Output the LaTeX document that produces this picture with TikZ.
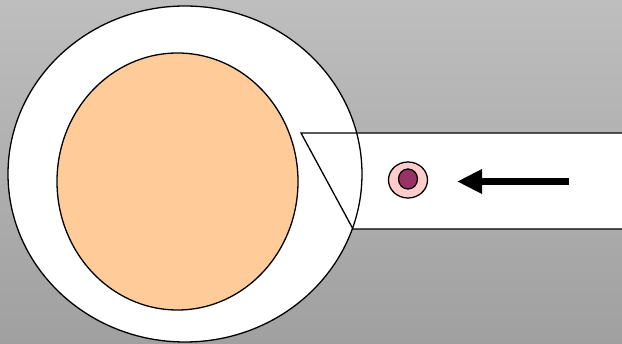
\documentclass[tikz,border=0pt]{standalone}
\usetikzlibrary{arrows.meta}
\definecolor{bgtop}{HTML}{BEBEBE}
\definecolor{bgbot}{HTML}{A0A0A0}
\definecolor{peach}{HTML}{FFCC99}
\definecolor{pinkring}{HTML}{FFCCCC}
\definecolor{plum}{HTML}{993366}
\tikzset{outline/.style={draw=black,line width=1.3pt}}
\begin{document}
\begin{tikzpicture}[x=1pt,y=-1pt]
\shade[top color=bgtop,bottom color=bgbot] (0,0) rectangle (622,344);
\useasboundingbox (0,0) rectangle (622,344);
% outer white disc
\fill[white] (185,174) ellipse [x radius=177, y radius=168];
% inner peach disc
\draw[outline,fill=peach] (177.5,181.5) ellipse [x radius=120.5, y radius=128.5];
% beam
\fill[white] (301,133) -- (630,133) -- (630,229) -- (353,229) -- cycle;
\draw[outline] (630,133) -- (301,133) -- (353,229) -- (630,229);
% outer circle outline
\draw[outline] (185,174) ellipse [x radius=177, y radius=168];
% particle
\draw[outline,fill=pinkring] (408,180) ellipse [x radius=19.5, y radius=18];
\draw[outline,fill=plum] (408,179) ellipse [x radius=9.5, y radius=10];
% arrow
\coordinate (as) at (569,181.5);
\coordinate (ae) at (457,181.5);
\draw[line width=7pt,-{Triangle[length=25pt,width=23pt]}] (as) -- (ae);
\end{tikzpicture}
\end{document}
